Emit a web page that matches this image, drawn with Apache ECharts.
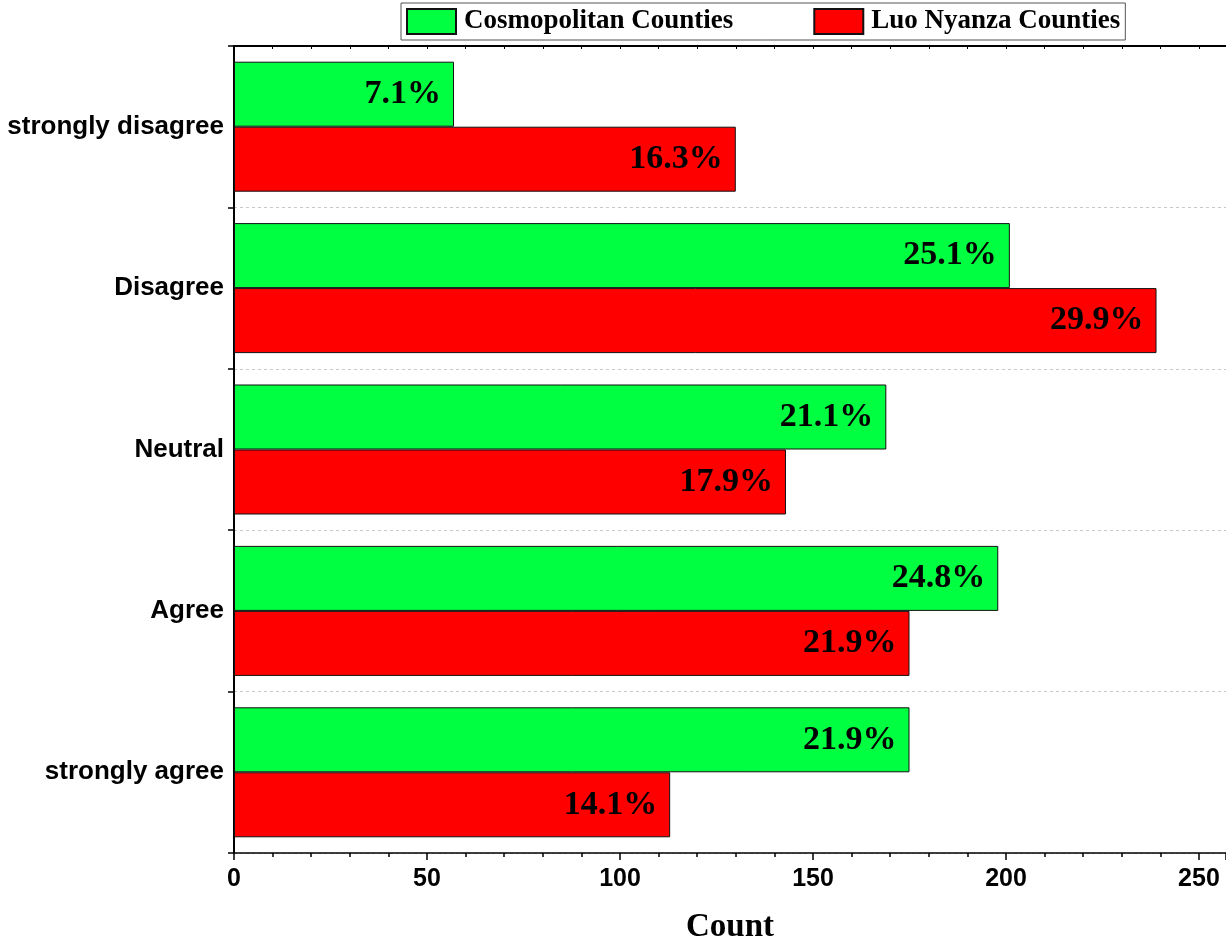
<!DOCTYPE html>
<html>
<head>
<meta charset="utf-8">
<title>Responses by county group</title>
<script src="https://cdn.jsdelivr.net/npm/echarts@6/dist/echarts.min.js"></script>
<style>
  html, body { margin: 0; padding: 0; background: #ffffff; overflow: hidden; }
  #chart { width: 1226px; height: 949px; }
</style>
</head>
<body>
<div id="chart"></div>
<script>
// Response categories, top to bottom
const categories = ['strongly disagree', 'Disagree', 'Neutral', 'Agree', 'strongly agree'];

// Respondent counts per category
const cosmopolitanCounts = [57, 201, 169, 198, 175];
const luoNyanzaCounts = [130, 239, 143, 175, 113];

const seriesNames = ['Cosmopolitan Counties', 'Luo Nyanza Counties'];
const xTicks = { min: 0, max: 257, step: 50 };

// Share of each group's total, one decimal
function shareLabel(counts) {
  const total = counts.reduce((a, b) => a + b, 0);
  return (p) => (Math.round(p.value * 1000 / total) / 10).toFixed(1) + '%';
}

const barLabel = (counts) => ({
  show: true,
  position: 'insideRight',
  distance: 13,
  formatter: shareLabel(counts),
  fontFamily: 'Liberation Serif',
  fontWeight: 'bold',
  fontSize: 34,
  color: '#000'
});

const chart = echarts.init(document.getElementById('chart'), null, { renderer: 'canvas', width: 1226, height: 949 });

chart.setOption({
  animation: false,
  backgroundColor: '#ffffff',
  legend: {
    left: 401,
    top: 3,
    padding: [5, 5, 5, 5],
    itemWidth: 49,
    itemHeight: 25,
    itemGap: 80,
    borderColor: '#555',
    borderWidth: 1,
    icon: 'rect',
    textStyle: {
      fontFamily: 'Liberation Serif',
      fontWeight: 'bold',
      fontSize: 27,
      color: '#000',
      padding: [0, 0, 0, 3]
    },
    data: seriesNames
  },
  grid: { left: 234, width: 992, top: 46, height: 813 },
  xAxis: [
    {
      type: 'value',
      position: 'bottom',
      min: xTicks.min,
      max: xTicks.max,
      interval: xTicks.step,
      name: 'Count',
      nameLocation: 'middle',
      nameGap: 58,
      nameTextStyle: {
        fontFamily: 'Liberation Serif',
        fontWeight: 'bold',
        fontSize: 33,
        color: '#000'
      },
      axisLine: { show: true, onZero: false, lineStyle: { color: '#000', width: 1.5 } },
      axisTick: { show: true, length: 7, lineStyle: { color: '#000', width: 1.5 } },
      minorTick: { show: true, splitNumber: 5, length: 4, lineStyle: { color: '#000', width: 1.5 } },
      axisLabel: {
        margin: 14,
        fontFamily: 'Liberation Sans',
        fontWeight: 'bold',
        fontSize: 25,
        color: '#000',
        showMaxLabel: false
      },
      splitLine: { show: false }
    },
    {
      type: 'value',
      position: 'top',
      min: xTicks.min,
      max: xTicks.max,
      interval: 10,
      axisLine: { show: true, onZero: false, lineStyle: { color: '#000', width: 2 } },
      axisTick: { show: true, inside: true, length: 3, lineStyle: { color: '#000', width: 1 } },
      axisLabel: { show: false },
      splitLine: { show: false }
    }
  ],
  yAxis: {
    type: 'category',
    inverse: true,
    data: categories,
    axisLine: { show: true, lineStyle: { color: '#000', width: 2 } },
    axisTick: { show: true, length: 6, lineStyle: { color: '#000', width: 1.5 } },
    axisLabel: {
      margin: 10,
      fontFamily: 'Liberation Sans',
      fontWeight: 'bold',
      fontSize: 26,
      color: '#000'
    },
    splitLine: {
      show: true,
      lineStyle: { color: '#c8c8c8', type: [3, 3], width: 1 }
    }
  },
  series: [
    {
      name: seriesNames[0],
      type: 'bar',
      data: cosmopolitanCounts,
      barWidth: 65,
      barGap: '0%',
      itemStyle: { color: '#00ff40', borderColor: '#111', borderWidth: 1 },
      label: barLabel(cosmopolitanCounts)
    },
    {
      name: seriesNames[1],
      type: 'bar',
      data: luoNyanzaCounts,
      barWidth: 65,
      barGap: '0%',
      itemStyle: { color: '#ff0000', borderColor: '#111', borderWidth: 1 },
      label: barLabel(luoNyanzaCounts)
    }
  ]
});
</script>
</body>
</html>
